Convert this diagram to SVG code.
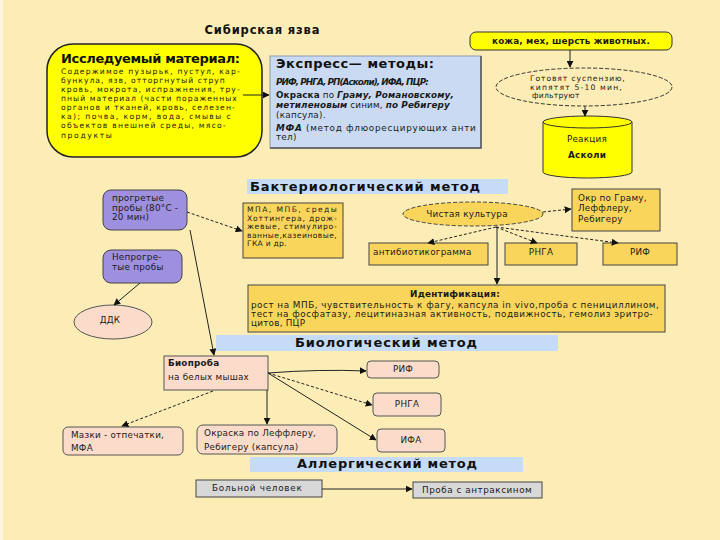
<svg xmlns="http://www.w3.org/2000/svg" width="720" height="540" viewBox="0 0 720 540">
<defs>
<marker id="ah" viewBox="0 0 10 10" refX="9" refY="5" markerWidth="7" markerHeight="7" markerUnits="userSpaceOnUse" orient="auto"><path d="M0,0 L10,5 L0,10 z" fill="#111"/></marker>
<style>
.t{font-family:"DejaVu Sans",Verdana,sans-serif;font-size:8.8px;letter-spacing:0.25px;fill:#1a1a1a}
.s{font-size:7.6px}
.b{font-weight:bold}
.i{font-style:italic}
.h{font-family:"DejaVu Sans",Verdana,sans-serif;font-size:13px;font-weight:bold;fill:#111}
.m{text-anchor:middle}
.band{fill:#C6DBF5}
.yb{fill:#F9D65B;stroke:#444;stroke-width:1}
.pk{fill:#FBDCCB;stroke:#555;stroke-width:1}
.pu{fill:#9F8FDF;stroke:#444;stroke-width:1}
.gr{fill:#D8D8D8;stroke:#444;stroke-width:1}
.c{fill:none;stroke:#222;stroke-width:1;marker-end:url(#ah)}
.d{stroke-dasharray:3 2}
</style>
</defs>
<rect x="0" y="0" width="720" height="540" fill="#FCEDB6"/>
<rect x="0" y="0" width="3" height="540" fill="#FDF6DC"/>

<text class="h m" x="262" y="34" style="font-size:11.5px" textLength="115">Сибирская язва</text>

<g id="material">
<rect x="47" y="44" width="215" height="113" rx="26" fill="#FFFF00" stroke="#222" stroke-width="1.5"/>
<text class="h" x="61" y="63" textLength="179">Исследуемый материал:</text>
<text class="t s" x="61" y="74" textLength="179">Содержимое пузырьк, пустул, кар-</text>
<text class="t s" x="61" y="83" textLength="164">бункула, язв, отторгнутый струп</text>
<text class="t s" x="61" y="92" textLength="179">кровь, мокрота, испражнения, тру-</text>
<text class="t s" x="61" y="101" textLength="176">пный материал (части пораженных</text>
<text class="t s" x="61" y="110" textLength="174">органов и тканей, кровь, селезен-</text>
<text class="t s" x="61" y="119" textLength="170">ка); почва, корм, вода, смывы с</text>
<text class="t s" x="61" y="128" textLength="165">объектов внешней среды, мясо-</text>
<text class="t s" x="61" y="138" textLength="51">продукты</text>
</g>

<g id="express">
<rect x="270" y="56" width="211" height="92" fill="#C9DAF2" stroke="#8a9ab0" stroke-width="1"/>
<path d="M481,56 V148 H270" fill="none" stroke="#555" stroke-width="1.5"/>
<text class="h" x="276" y="68" textLength="158">Экспресс— методы:</text>
<text class="t b i" x="276" y="85" textLength="153">РИФ, РНГА, РП(Асколи), ИФА, ПЦР:</text>
<text class="t" x="276" y="98" textLength="178"><tspan class="b">Окраска</tspan> по <tspan class="b i">Граму, Романовскому,</tspan></text>
<text class="t" x="276" y="108" textLength="174"><tspan class="b i">метиленовым</tspan> синим, <tspan class="b i">по Ребигеру</tspan></text>
<text class="t" x="276" y="118">(капсула).</text>
<text class="t" x="276" y="131" textLength="200"><tspan class="b i">МФА</tspan> (метод флюоресцирующих анти</text>
<text class="t" x="276" y="140">тел)</text>
</g>

<g id="skin">
<rect x="470" y="32" width="202" height="18" rx="6" fill="#FFFF00" stroke="#333" stroke-width="1"/>
<text class="t b m" x="571" y="44" textLength="158">кожа, мех, шерсть животных.</text>
</g>
<g id="boil">
<ellipse cx="584" cy="87" rx="88" ry="19" fill="none" stroke="#333" stroke-width="1" stroke-dasharray="4 2"/>
<text class="t s" x="530" y="81" textLength="95">Готовят суспензию,</text>
<text class="t s" x="530" y="89.5" textLength="92">кипятят 5-10 мин,</text>
<text class="t s" x="532" y="98">фильтруют</text>
</g>
<g id="ascoli">
<path d="M543,122 V172 A44.5,6 0 0 0 632,172 V122 Z" fill="#FFFF00" stroke="#333" stroke-width="1"/>
<ellipse cx="587.5" cy="122" rx="44.5" ry="6" fill="#FFFF00" stroke="#333" stroke-width="1"/>
<text class="t m" x="587" y="142">Реакция</text>
<text class="t b m" x="587" y="158">Асколи</text>
</g>

<g id="band-bact">
<rect class="band" x="247" y="179" width="261" height="15"/>
<text class="h" x="250" y="191" textLength="230">Бактериологический метод</text>
</g>

<g id="heated">
<rect class="pu" x="103" y="190" width="84" height="40" rx="8"/>
<text class="t" x="112" y="201">прогретые</text>
<text class="t" x="112" y="210.5">пробы (80°С -</text>
<text class="t" x="112" y="220">20 мин)</text>
</g>
<g id="unheated">
<rect class="pu" x="103" y="250" width="79" height="33" rx="8"/>
<text class="t" x="112" y="260">Непрогре-</text>
<text class="t" x="112" y="270">тые пробы</text>
</g>
<g id="ddk">
<ellipse class="pk" cx="113" cy="322" rx="39" ry="17"/>
<text class="t m" x="110" y="323">ДДК</text>
</g>
<g id="media">
<rect class="yb" x="243" y="203" width="100" height="55"/>
<text class="t s" x="247" y="212" textLength="90">МПА, МПБ, среды</text>
<text class="t s" x="247" y="220.5" textLength="90">Хоттингера, дрож-</text>
<text class="t s" x="247" y="229" textLength="90">жевые, стимулиро-</text>
<text class="t s" x="247" y="237.5" textLength="90">ванные,казеиновые,</text>
<text class="t s" x="247" y="246">ГКА и др.</text>
</g>
<g id="culture">
<ellipse cx="473" cy="214" rx="70" ry="12" fill="#F9D65B" stroke="#444" stroke-width="1" stroke-dasharray="4 2"/>
<text class="t m" x="467" y="217">Чистая культура</text>
</g>
<g id="stain">
<rect class="yb" x="572" y="189" width="88" height="42"/>
<text class="t" x="578" y="201">Окр по Граму,</text>
<text class="t" x="578" y="211">Леффлеру,</text>
<text class="t" x="578" y="222">Ребигеру</text>
</g>
<g id="antibio">
<rect class="yb" x="369" y="243" width="119" height="22"/>
<text class="t" x="373" y="255">антибиотикограмма</text>
</g>
<g id="rnga1">
<rect class="yb" x="505" y="243" width="72" height="22"/>
<text class="t m" x="541" y="255">РНГА</text>
</g>
<g id="rif1">
<rect class="yb" x="603" y="243" width="74" height="22"/>
<text class="t m" x="640" y="255">РИФ</text>
</g>
<g id="ident">
<rect class="yb" x="248" y="285" width="417" height="47"/>
<text class="t b m" x="455" y="297">Идентификация:</text>
<text class="t" x="251" y="308" textLength="408">рост на МПБ, чувствительность к фагу, капсула in vivo,проба с пенициллином,</text>
<text class="t" x="251" y="317" textLength="402">тест на фосфатазу, лецитиназная активность, подвижность, гемолиз эритро-</text>
<text class="t" x="251" y="326">цитов, ПЦР</text>
</g>

<g id="band-bio">
<rect class="band" x="216" y="335" width="342" height="16"/>
<text class="h m" x="386" y="347" textLength="182">Биологический метод</text>
</g>
<g id="bioprobe">
<rect class="pk" x="164" y="356" width="104" height="34"/>
<text class="t b" x="168" y="366">Биопроба</text>
<text class="t" x="168" y="380">на белых мышах</text>
</g>
<g id="rif2">
<rect class="pk" x="367" y="361" width="72" height="17" rx="4"/>
<text class="t m" x="403" y="372">РИФ</text>
</g>
<g id="rnga2">
<rect class="pk" x="373" y="393" width="68" height="23" rx="4"/>
<text class="t m" x="407" y="407">РНГА</text>
</g>
<g id="ifa">
<rect class="pk" x="377" y="429" width="68" height="23" rx="4"/>
<text class="t m" x="411" y="443">ИФА</text>
</g>
<g id="smears">
<rect class="pk" x="63" y="427" width="120" height="28" rx="5"/>
<text class="t" x="71" y="438">Мазки - отпечатки,</text>
<text class="t" x="71" y="451">МФА</text>
</g>
<g id="staining">
<rect class="pk" x="197" y="425" width="140" height="29" rx="6"/>
<text class="t" x="204" y="436">Окраска по Леффлеру,</text>
<text class="t" x="204" y="450">Ребигеру (капсула)</text>
</g>

<g id="band-allerg">
<rect class="band" x="250" y="457" width="273" height="15"/>
<text class="h m" x="387" y="468" textLength="180">Аллергический метод</text>
</g>
<g id="patient">
<rect class="gr" x="196" y="480" width="126" height="17"/>
<text class="t" x="212" y="491" textLength="90">Больной человек</text>
</g>
<g id="anthraxin">
<rect class="gr" x="413" y="482" width="129" height="16"/>
<text class="t" x="422" y="493" textLength="110">Проба с антраксином</text>
</g>

<g id="connectors">
<line class="c" x1="243" y1="95" x2="269" y2="95"/>
<line class="c" x1="570" y1="50" x2="570" y2="67"/>
<line class="c" x1="585" y1="106" x2="585" y2="116"/>
<line class="c d" x1="187" y1="212" x2="242" y2="231"/>
<line class="c" x1="190" y1="230" x2="214" y2="355"/>
<line class="c" x1="140" y1="283" x2="114" y2="305"/>
<line class="c d" x1="543" y1="212" x2="571" y2="209"/>
<line class="c d" x1="496" y1="227" x2="428" y2="243"/>
<line class="c d" x1="496" y1="227" x2="537" y2="243"/>
<line class="c d" x1="496" y1="227" x2="618" y2="243"/>
<line class="c" x1="497" y1="227" x2="497" y2="284"/>
<path class="c" d="M268,373 Q320,369 366,371" stroke-width="1.5"/>
<line class="c d" x1="268" y1="373" x2="372" y2="405"/>
<line class="c" x1="268" y1="373" x2="376" y2="440"/>
<line class="c" x1="267" y1="390" x2="267" y2="424"/>
<line class="c d" x1="213" y1="391" x2="122" y2="426"/>
<line class="c" x1="322" y1="489" x2="412" y2="489"/>
</g>
</svg>
